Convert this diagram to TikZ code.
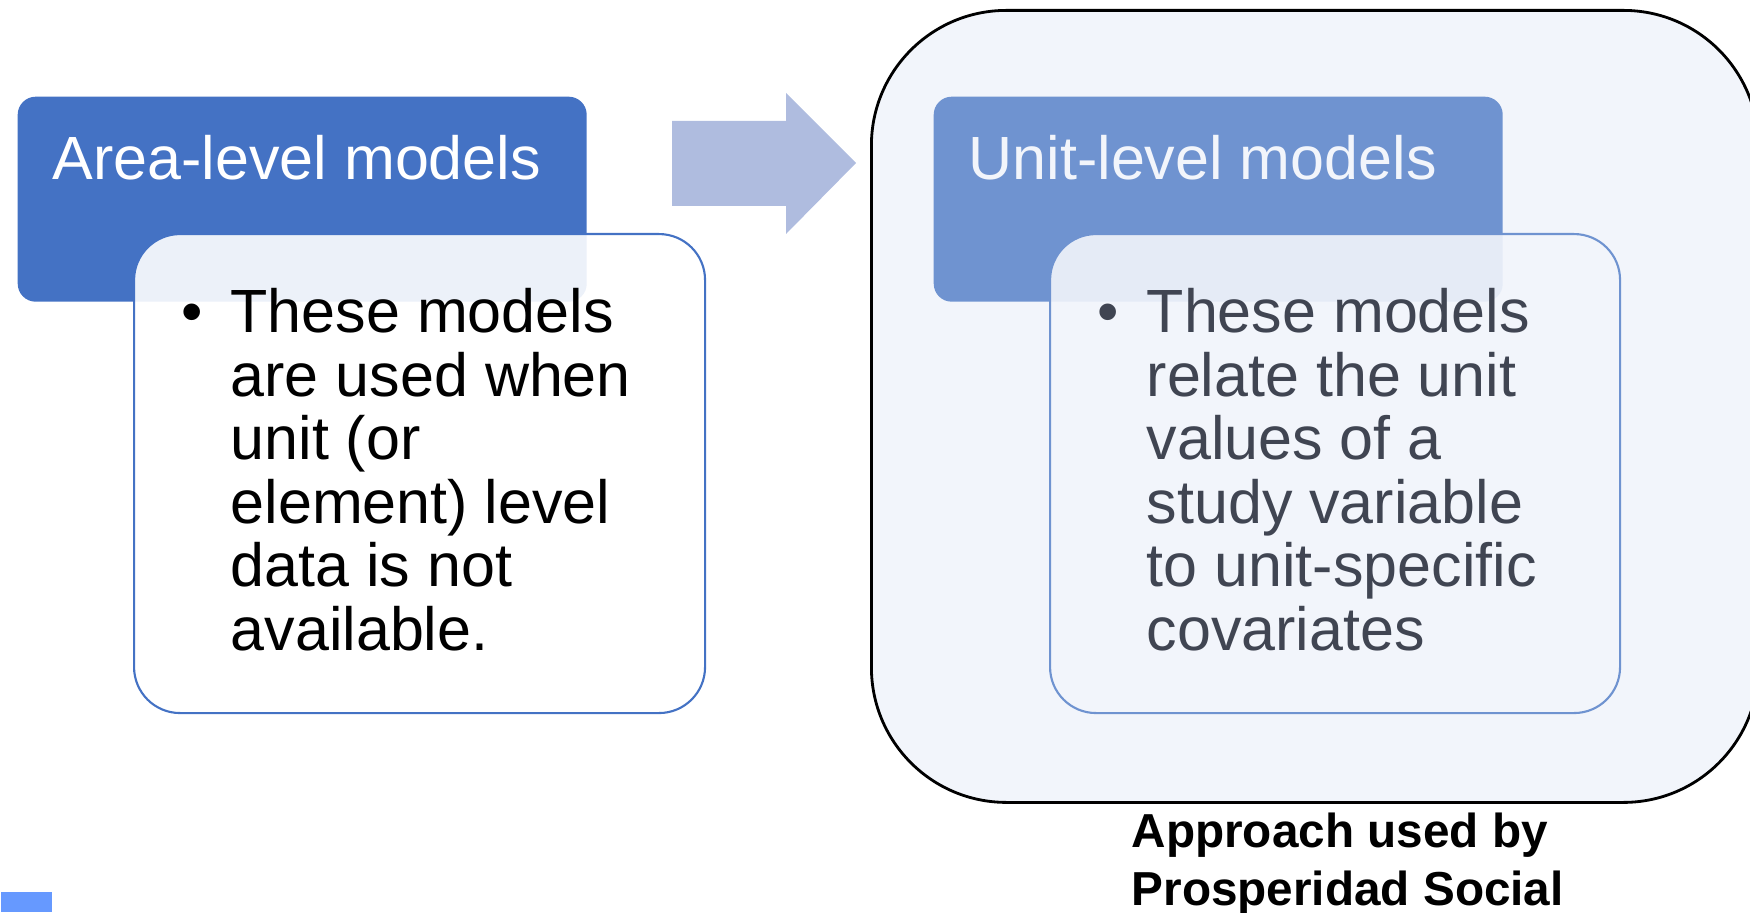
\documentclass[tikz,border=0pt]{standalone}
\usepackage{fontspec}
\setmainfont{Liberation Sans}
\usetikzlibrary{positioning}

\definecolor{areablue}{HTML}{4472C4}
\definecolor{unitblue}{HTML}{6F93D0}
\definecolor{arrowblue}{HTML}{AFBCDF}
\definecolor{panelbg}{HTML}{F2F5FB}
\definecolor{unittext}{HTML}{404552}
\definecolor{cornerblue}{HTML}{6699FF}

\tikzset{
  headbox/.style={rectangle, rounded corners=1.8mm, minimum width=56.9mm, minimum height=20.5mm, anchor=north west, inner sep=0pt},
  bodybox/.style={rectangle, rounded corners=4.6mm, line width=0.6pt, minimum width=57.1mm, minimum height=47.9mm, anchor=north west, fill opacity=0.9, inner sep=0pt},
  headtext/.style={anchor=base west, inner sep=0pt, font=\fontsize{17.36pt}{18.04pt}\selectfont},
  bodytext/.style={anchor=base west, inner sep=0pt, align=left, font=\fontsize{17.36pt}{18.04pt}\selectfont},
}

\begin{document}
\begin{tikzpicture}
\useasboundingbox (0,0) rectangle (17.5,-9.13);

% left side
\node (rectArea) [headbox, fill=areablue] at (0.17,-0.96) {};
\node [headtext, text=white] at ([shift={(0.35,-0.84)}]rectArea.north west) {Area-level models};
\node (rectAreaNote) [bodybox, draw=areablue, fill=white] at (1.33,-2.33) {};
\node [bodytext] at ([shift={(0.48,-1.00)}]rectAreaNote.north west) {•};
% base of a multi-line node is its last line
\node [bodytext] at ([shift={(0.97,-4.17)}]rectAreaNote.north west) {These models\\are used when\\unit (or\\element) level\\data is not\\available.};

% arrow
\fill [arrowblue] (6.72,-1.21) -- (7.86,-1.21) -- (7.86,-0.93) -- (8.56,-1.63) -- (7.86,-2.34) -- (7.86,-2.06) -- (6.72,-2.06) -- cycle;

% right side
\node (rectPanel) [rectangle, draw=black, line width=0.8pt, fill=panelbg, rounded corners=13.5mm, minimum width=88.7mm, minimum height=79.2mm, anchor=north west] at (8.70,-0.09) {};
\node (rectUnit) [headbox, fill=unitblue] at (9.33,-0.96) {};
\node [headtext, text=panelbg] at ([shift={(0.35,-0.84)}]rectUnit.north west) {Unit-level models};
\node (rectUnitNote) [bodybox, draw=unitblue, fill=panelbg, minimum width=57.0mm] at (10.49,-2.33) {};
\node [bodytext, text=unittext] at ([shift={(0.48,-1.00)}]rectUnitNote.north west) {•};
\node [bodytext, text=unittext] at ([shift={(0.97,-4.17)}]rectUnitNote.north west) {These models\\relate the unit\\values of a\\study variable\\to unit-specific\\covariates};

\node (caption) [anchor=base west, inner sep=0pt, align=left, font=\fontsize{13.57pt}{16.5pt}\selectfont\bfseries] at (11.31,-9.05) {Approach used by\\Prosperidad Social};

\node (corner) [rectangle, fill=cornerblue, minimum width=5.1mm, minimum height=2mm, anchor=south west, inner sep=0pt] at (0,-9.13) {};
\end{tikzpicture}
\end{document}
